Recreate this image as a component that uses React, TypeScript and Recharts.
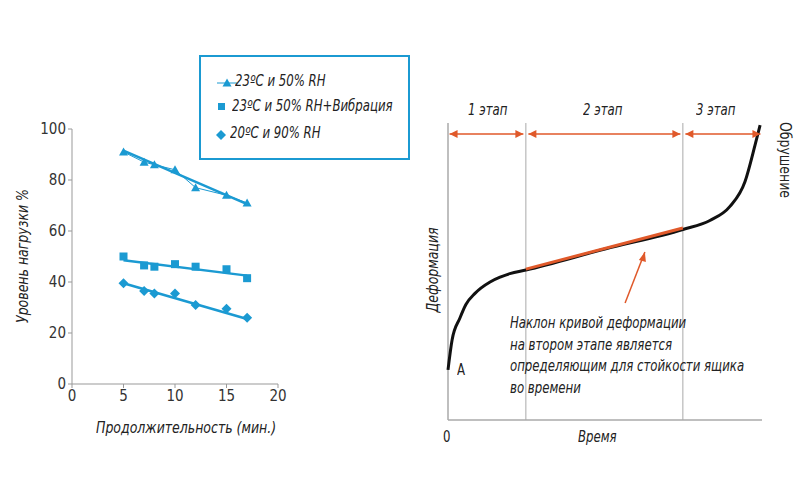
import React from 'react';
import { LineChart, Line, XAxis, YAxis, ReferenceLine } from 'recharts';

const BLUE = '#1b9ad2';
const ORANGE = '#e0592a';
const FONT = '"DejaVu Sans Condensed", "Liberation Sans Narrow", Roboto, sans-serif';

const xTicks = [0, 5, 10, 15, 20];
const yTicks = [0, 20, 40, 60, 80, 100];

const triangles = [
  { x: 5, y: 91 }, { x: 7, y: 87 }, { x: 8, y: 86 }, { x: 10, y: 84 },
  { x: 12, y: 77 }, { x: 15, y: 74 }, { x: 17, y: 71 },
];
const trianglesTrend = [{ x: 5, y: 91.5 }, { x: 17, y: 70.5 }];
const squares = [
  { x: 5, y: 50 }, { x: 7, y: 46.5 }, { x: 8, y: 46 }, { x: 10, y: 47 },
  { x: 12, y: 46 }, { x: 15, y: 45 }, { x: 17, y: 41.5 },
];
const squaresTrend = [{ x: 5, y: 48.5 }, { x: 17, y: 42.5 }];
const diamonds = [
  { x: 5, y: 39.5 }, { x: 7, y: 36.5 }, { x: 8, y: 35.5 }, { x: 10, y: 35.5 },
  { x: 12, y: 31 }, { x: 15, y: 29.5 }, { x: 17, y: 26 },
];
const diamondsTrend = [{ x: 5, y: 39.5 }, { x: 17, y: 25.5 }];

// right schematic
const curve = [
  { x: 0, y: 16.7 }, { x: 1.3, y: 26.7 }, { x: 3.8, y: 34 }, { x: 5.7, y: 38.5 }, { x: 8.6, y: 42.2 },
  { x: 13.4, y: 46 }, { x: 16.6, y: 47.6 }, { x: 19.7, y: 48.8 }, { x: 24.8, y: 50 }, { x: 50, y: 57 },
  { x: 74.8, y: 63.5 }, { x: 83.4, y: 66.5 }, { x: 89.8, y: 71.2 }, { x: 94.6, y: 79.5 },
  { x: 97.8, y: 91.7 }, { x: 99.4, y: 98.3 },
];
const stage2 = [{ x: 24.8, y: 50.3 }, { x: 74.8, y: 64 }];
const boundaries = [24.8, 74.8];
const arrowY = 95.3;
const stageArrows = [
  [{ x: 0.5, y: arrowY }, { x: 24, y: arrowY }],
  [{ x: 25.6, y: arrowY }, { x: 74, y: arrowY }],
  [{ x: 75.6, y: arrowY }, { x: 99.5, y: arrowY }],
];
const pointer = [{ x: 56.4, y: 39 }, { x: 62.7, y: 56 }];
const stageLabels = ['1 этап', '2 этап', '3 этап'];
const noteLines = [
  'Наклон кривой деформации',
  'на втором этапе является',
  'определяющим для стойкости ящика',
  'во времени',
];

const Tri = (p: any) => {
  const { cx, cy } = p;
  if (cx == null) return null;
  return <path key={p.index} d={`M${cx},${cy - 4.5} L${cx + 4.5},${cy + 3.5} L${cx - 4.5},${cy + 3.5} Z`} fill={BLUE} />;
};
const Sq = (p: any) => {
  const { cx, cy } = p;
  if (cx == null) return null;
  return <rect key={p.index} x={cx - 4} y={cy - 4} width={8} height={8} fill={BLUE} />;
};
const Dia = (p: any) => {
  const { cx, cy } = p;
  if (cx == null) return null;
  return <path key={p.index} d={`M${cx},${cy - 5} L${cx + 5},${cy} L${cx},${cy + 5} L${cx - 5},${cy} Z`} fill={BLUE} />;
};
const HArrow = (p: any) => {
  const { cx, cy, index } = p;
  if (cx == null) return null;
  const d = index === 0
    ? `M${cx},${cy} L${cx + 8},${cy - 4} L${cx + 8},${cy + 4} Z`
    : `M${cx},${cy} L${cx - 8},${cy - 4} L${cx - 8},${cy + 4} Z`;
  return <path key={index} d={d} fill={ORANGE} />;
};
const UpArrow = (p: any) => {
  const { cx, cy, index } = p;
  if (cx == null || index !== 1) return <g key={index} />;
  return <path key={index} d={`M${cx},${cy} L${cx - 6},${cy + 8} L${cx + 1},${cy + 10} Z`} fill={ORANGE} />;
};

const tickStyle = { fontSize: 15, fill: '#333', fontFamily: FONT };

export default function App() {
  const abs = (l: number, t: number, extra: any = {}) => ({ position: 'absolute' as const, left: l, top: t, fontFamily: FONT, fontStyle: 'italic', fontSize: 15, color: '#222', whiteSpace: 'nowrap' as const, transformOrigin: 'left top', transform: 'scaleX(0.87)', ...extra });
  const rot = (deg: number) => ({ transformOrigin: 'center', transform: `translate(-50%,-50%) rotate(${deg}deg) scaleX(0.87)` });
  return (
    <div style={{ position: 'absolute', left: 0, top: 0, width: 805, height: 500, background: '#fff', overflow: 'hidden' }}>
      <div style={{ position: 'absolute', left: 0, top: 0 }}>
        <LineChart width={300} height={450} margin={{ top: 129, right: 22, left: 42, bottom: 36 }}>
          <XAxis type="number" dataKey="x" domain={[0, 20]} ticks={xTicks} tick={tickStyle} stroke="#999" tickSize={4} height={30} allowDuplicatedCategory={false} />
          <YAxis type="number" dataKey="y" domain={[0, 100]} ticks={yTicks} tick={tickStyle} stroke="#999" tickSize={4} width={30} />
          <Line data={triangles} dataKey="y" stroke={BLUE} strokeWidth={1} dot={Tri} isAnimationActive={false} />
          <Line data={trianglesTrend} dataKey="y" stroke={BLUE} strokeWidth={2.5} dot={false} isAnimationActive={false} />
          <Line data={squares} dataKey="y" stroke="none" dot={Sq} isAnimationActive={false} />
          <Line data={squaresTrend} dataKey="y" stroke={BLUE} strokeWidth={2.5} dot={false} isAnimationActive={false} />
          <Line data={diamonds} dataKey="y" stroke="none" dot={Dia} isAnimationActive={false} />
          <Line data={diamondsTrend} dataKey="y" stroke={BLUE} strokeWidth={2.5} dot={false} isAnimationActive={false} />
        </LineChart>
      </div>
      <div style={abs(96, 418, { fontSize: 16 })}>Продолжительность (мин.)</div>
      <div style={abs(22, 256, { fontSize: 16, ...rot(-90) })}>Уровень нагрузки %</div>

      <div style={{ position: 'absolute', left: 199, top: 55, width: 207, height: 101, border: `2px solid ${BLUE}` }}>
        <svg style={{ position: 'absolute', left: 0, top: 0 }} width={207} height={101}>
          <line x1={16} y1={26} x2={36} y2={26} stroke={BLUE} strokeWidth={1} />
          <path d="M26,21.5 L30.5,29.5 L21.5,29.5 Z" fill={BLUE} />
          <rect x={17} y={46} width={7} height={7} fill={BLUE} />
          <path d="M20,73 L25,78 L20,83 L15,78 Z" fill={BLUE} />
        </svg>
        <div style={abs(34, 15)}>23ºC и 50% RH</div>
        <div style={abs(31, 40)}>23ºC и 50% RH+Вибрация</div>
        <div style={abs(29, 67)}>20ºC и 90% RH</div>
      </div>

      <div style={{ position: 'absolute', left: 400, top: 0 }}>
        <LineChart width={405} height={450} margin={{ top: 90, right: 43, left: 48, bottom: 30 }}>
          <XAxis type="number" dataKey="x" domain={[0, 100]} hide />
          <YAxis type="number" dataKey="y" domain={[0, 110]} hide />
          <ReferenceLine segment={[{ x: 0, y: 0 }, { x: 100, y: 0 }]} stroke="#aaa" strokeWidth={1.5} />
          <ReferenceLine segment={[{ x: 0, y: 0 }, { x: 0, y: 99 }]} stroke="#aaa" strokeWidth={1.5} />
          {boundaries.map((b) => (
            <ReferenceLine key={b} segment={[{ x: b, y: 0 }, { x: b, y: 99 }]} stroke="#aaa" strokeWidth={1} />
          ))}
          {stageArrows.map((a, i) => (
            <Line key={i} data={a} dataKey="y" stroke={ORANGE} strokeWidth={1.5} dot={HArrow} isAnimationActive={false} />
          ))}
          <Line data={curve} dataKey="y" type="monotone" stroke="#111" strokeWidth={3} dot={false} isAnimationActive={false} />
          <Line data={stage2} dataKey="y" stroke={ORANGE} strokeWidth={3} dot={false} isAnimationActive={false} />
          <Line data={pointer} dataKey="y" stroke={ORANGE} strokeWidth={1.5} dot={UpArrow} isAnimationActive={false} />
        </LineChart>
      </div>
      {stageLabels.map((s, i) => (
        <div key={s} style={abs([468, 583, 696][i], 101)}>{s}</div>
      ))}
      <div style={abs(432, 270, { fontSize: 16, ...rot(-90) })}>Деформация</div>
      <div style={abs(785, 160, { fontSize: 16, fontStyle: 'normal', ...rot(90) })}>Обрушение</div>
      <div style={abs(443, 428, { fontStyle: 'normal', fontSize: 15 })}>0</div>
      <div style={abs(578, 428, { fontSize: 15 })}>Время</div>
      <div style={abs(457, 361, { fontStyle: 'normal', fontSize: 15 })}>A</div>
      {noteLines.map((t, i) => (
        <div key={t} style={abs(510, 314 + i * 21.5, { fontSize: 15 })}>{t}</div>
      ))}
    </div>
  );
}
